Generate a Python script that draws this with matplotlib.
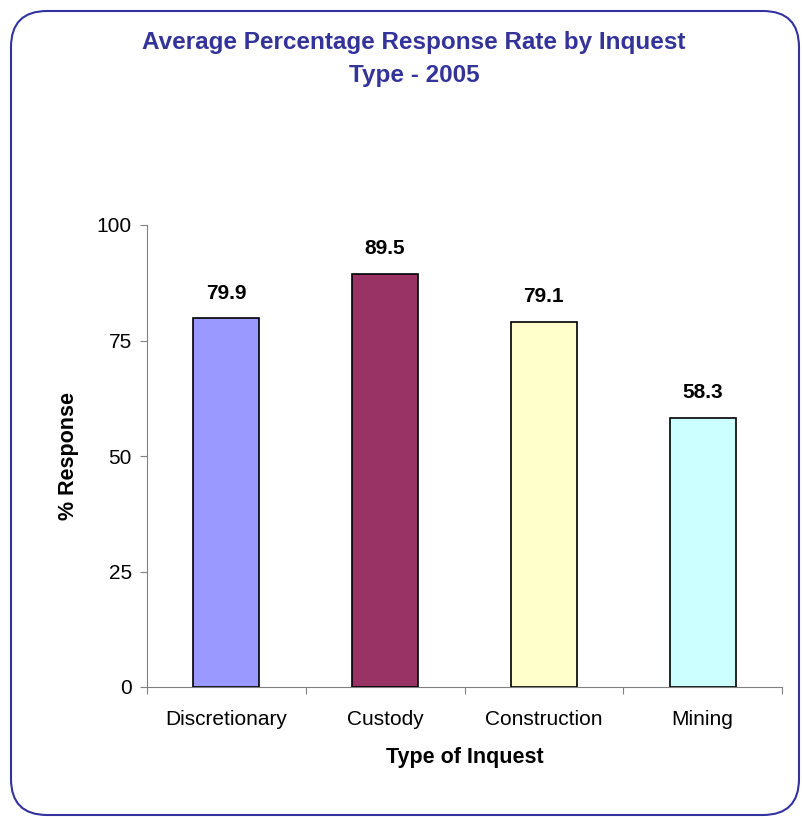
import matplotlib
matplotlib.use('Agg')
import matplotlib.pyplot as plt
from matplotlib.patches import FancyBboxPatch

categorias = ['Discretionary', 'Custody', 'Construction', 'Mining']
valores = [79.9, 89.5, 79.1, 58.3]
cores = ['#9999FF', '#993366', '#FFFFCC', '#CCFFFF']
ticks_y = [0, 25, 50, 75, 100]

plt.rcParams['font.family'] = ['Liberation Sans', 'DejaVu Sans']

fig = plt.figure(figsize=(8.02, 8.17), dpi=100)
W, H = 802, 817

# borda arredondada
borda = FancyBboxPatch((11 / W, 2 / H), (799 - 11) / W, (806 - 2) / H,
                       boxstyle='round,pad=0,rounding_size=0.045',
                       transform=fig.transFigure, fill=False,
                       edgecolor='#3333A0', linewidth=1.5, mutation_aspect=W / H)
fig.patches.append(borda)

ax = fig.add_axes([147 / W, 1 - 687 / H, (782 - 147) / W, (687 - 225) / H])
pos = [i + 0.5 for i in range(len(categorias))]
ax.bar(pos, valores, width=0.415, color=cores, edgecolor='black', linewidth=1.2, zorder=3)

for x, v in zip(pos, valores):
    ax.text(x, v + 3.3, f'{v:.1f}', ha='center', va='bottom', fontsize=15, fontweight='bold')

ax.set_xlim(0, 4)
ax.set_ylim(0, 100)
ax.set_yticks(ticks_y)
ax.set_yticklabels([str(t) for t in ticks_y], fontsize=15)
ax.set_xticks([0, 1, 2, 3, 4])
ax.set_xticklabels([])
ax.set_xticks(pos, minor=True)
ax.set_xticklabels(categorias, minor=True, fontsize=15)
ax.tick_params(axis='x', which='minor', length=0, pad=16.5)
ax.tick_params(axis='x', which='major', length=5, color='#808080', direction='out')
ax.tick_params(axis='y', length=5, color='#808080', direction='out', pad=6)

for lado in ['top', 'right']:
    ax.spines[lado].set_visible(False)
ax.spines['left'].set_color('#808080')
ax.spines['bottom'].set_color('#808080')

ax.set_xlabel('Type of Inquest', fontsize=15.5, fontweight='bold', labelpad=13)
ax.set_ylabel('% Response', fontsize=15.5, fontweight='bold', labelpad=13)

fig.text(414 / W, 1 - 59 / H, 'Average Percentage Response Rate by Inquest\nType - 2005',
         ha='center', va='center', fontsize=17.5, fontweight='bold', color='#333399',
         linespacing=1.6)

fig.savefig('out.png', dpi=100)
